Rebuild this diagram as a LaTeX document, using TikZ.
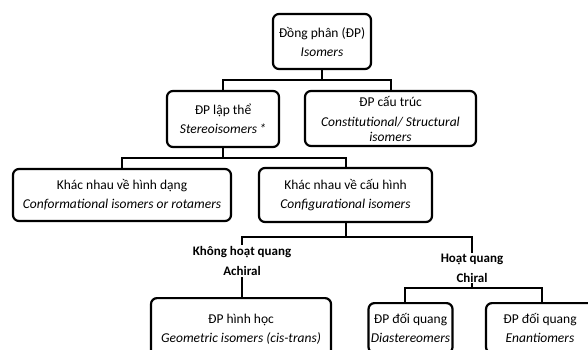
\documentclass[tikz,border=0pt]{standalone}
\usepackage{fontspec}
\setmainfont{Carlito}

\tikzstyle{box}=[draw, line width=2.2pt, rounded corners=6pt, align=center, inner sep=1pt, font=\fontsize{13.5}{19}\selectfont]
\tikzstyle{tag}=[align=center, inner sep=1pt, font=\bfseries\fontsize{13}{20}\selectfont]
\tikzstyle{link}=[line width=2pt]

\begin{document}
\begin{tikzpicture}[x=1pt, y=-1pt]
      \useasboundingbox (0,0) rectangle (588,350);
      \clip (0,0) rectangle (588,350);

      \node[box, minimum width=98pt, minimum height=55pt] (iso) at (322,41.5) {Đồng phân (ĐP)\\\textit{Isomers}};
      \node[box, minimum width=112pt, minimum height=56pt] (stereo) at (223,119) {ĐP lập thể\\\textit{Stereoisomers\,*}};
      \node[box, minimum width=171pt, minimum height=55pt, font=\fontsize{13.5}{15}\selectfont] (struct) at (390.5,118.5) {ĐP cấu trúc\\[5pt]\textit{Constitutional/ Structural}\\\textit{isomers}};
      \node[box, minimum width=218pt, minimum height=52pt] (conf) at (122,195) {Khác nhau về hình dạng\\\textit{Conformational isomers or rotamers}};
      \node[box, minimum width=173pt, minimum height=54pt] (config) at (345.5,195) {Khác nhau về cấu hình\\\textit{Configurational isomers}};
      \node[tag] (achiral) at (242,261) {Không hoạt quang\\Achiral};
      \node[tag] (chiral) at (472,268) {Hoạt quang\\Chiral};
      \node[box, anchor=north, minimum width=180pt, minimum height=62pt] (geom) at (241,297) {ĐP hình học\\\textit{Geometric isomers (cis-trans)}};
      \node[box, anchor=north, minimum width=84pt, minimum height=50pt] (dia) at (410.5,302) {ĐP đối quang\\\textit{Diastereomers}};
      \node[box, anchor=north, minimum width=108pt, minimum height=50pt] (enan) at (540,302) {ĐP đối quang\\\textit{Enantiomers}};

      \draw[link] (iso.south) -- ++(0,10) -| (stereo.north);
      \draw[link] (iso.south) -- ++(0,10) -| (struct.north);
      \draw[link] (stereo.south) -- ++(0,10) -| (conf.north);
      \draw[link] (stereo.south) -- ++(0,10) -| (config.north);
      \draw[link] (config.south) -- ++(0,14) -| (achiral.north);
      \draw[link] (config.south) -- ++(0,14) -| (chiral.north);
      \draw[link] (achiral.south) -- (achiral.south |- geom.north);
      \draw[link] (chiral.south) -- ++(0,5) -| ([xshift=-5.5pt]dia.north);
      \draw[link] (chiral.south) -- ++(0,5) -| ([xshift=2pt]enan.north);
\end{tikzpicture}
\end{document}
